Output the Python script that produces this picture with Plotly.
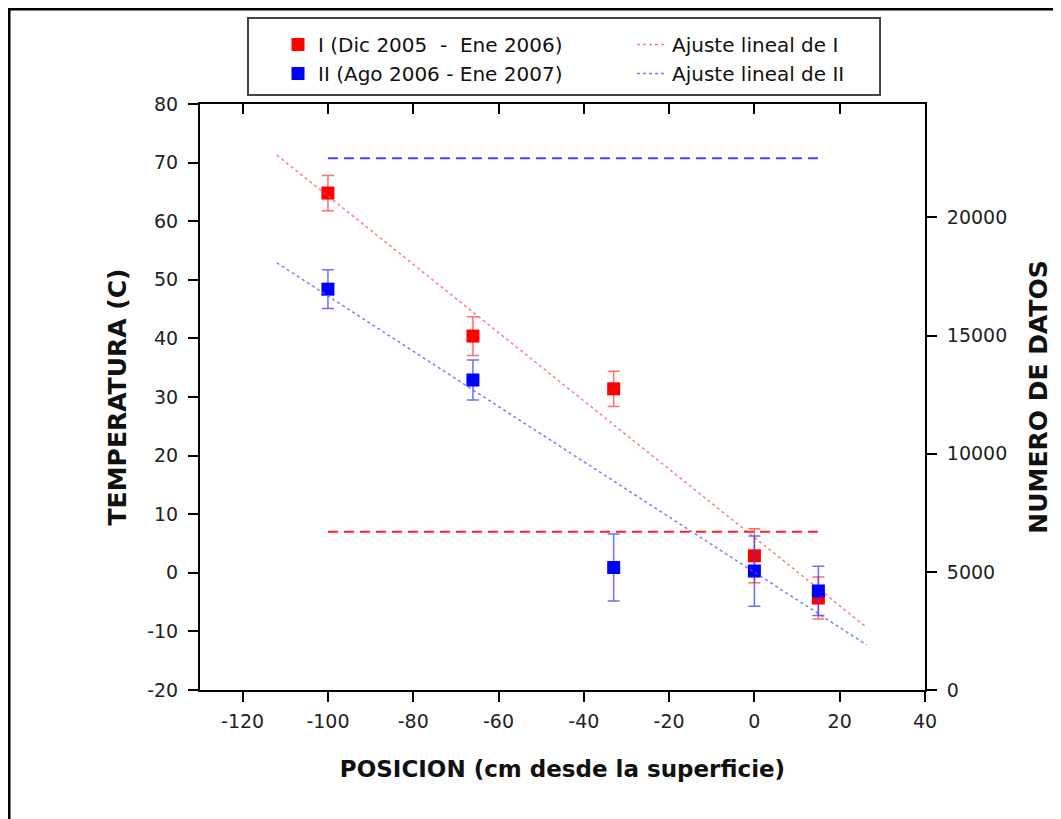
import plotly.graph_objects as go

# ---- data ----
pos = [-100, -66, -33, 0, 15]
temp_I = [64.8, 40.4, 31.4, 2.9, -4.3]
err_I = [3.0, 3.3, 3.0, 4.6, 3.6]
temp_II = [48.4, 32.9, 0.9, 0.3, -3.1]
err_II = [3.3, 3.4, 5.7, 6.0, 4.2]

fit_x = [-112, 26.3]
fit_I = [71.3, -9.3]
fit_II = [52.9, -12.3]

ndat_x = [-100, 15]
ndat_I = [6700, 6700]
ndat_II = [22500, 22500]

x_ticks = [-120, -100, -80, -60, -40, -20, 0, 20, 40]
x_ticktext = ["-120", "-100", "-80", "-60", "-40", "-20", "0", "20", "40"]
y_ticks = [-20, -10, 0, 10, 20, 30, 40, 50, 60, 70, 80]
y_ticktext = ["-20", "-10", "0", "10", "20", "30", "40", "50", "60", "70", "80"]
y2_ticks = [0, 5000, 10000, 15000, 20000]
y2_ticktext = ["0", "5000", "10000", "15000", "20000"]

name_I = "I (Dic 2005 \u00a0- \u00a0Ene 2006)"
name_II = "II (Ago 2006 - Ene 2007)"

FONT = "DejaVu Sans, Verdana, sans-serif"
TFONT = dict(family=FONT, size=23, color="#111")
YTFONT = dict(family=FONT, size=25, color="#111")

fig = go.Figure()

fig.add_trace(go.Scatter(
    x=pos, y=temp_I, mode="markers", name=name_I,
    marker=dict(symbol="square", size=13, color="#ff0000"),
    error_y=dict(type="data", array=err_I, color="rgba(255,60,60,0.75)", thickness=1.5, width=6),
))
fig.add_trace(go.Scatter(
    x=fit_x, y=fit_I, mode="lines", name="Ajuste lineal de I",
    line=dict(color="rgba(255,90,90,0.8)", width=1.5, dash="dot"),
))
fig.add_trace(go.Scatter(
    x=pos, y=temp_II, mode="markers", name=name_II,
    marker=dict(symbol="square", size=13, color="#0000ff"),
    error_y=dict(type="data", array=err_II, color="rgba(60,60,255,0.75)", thickness=1.5, width=6),
))
fig.add_trace(go.Scatter(
    x=fit_x, y=fit_II, mode="lines", name="Ajuste lineal de II",
    line=dict(color="rgba(90,90,255,0.8)", width=1.5, dash="dot"),
))
fig.add_trace(go.Scatter(
    x=ndat_x, y=ndat_I, mode="lines", yaxis="y2", showlegend=False,
    line=dict(color="#ff2020", width=2, dash="10px,6px"),
))
fig.add_trace(go.Scatter(
    x=ndat_x, y=ndat_II, mode="lines", yaxis="y2", showlegend=False,
    line=dict(color="#4444ff", width=2, dash="10px,6px"),
))
# invisible trace to activate top axis with inside ticks
fig.add_trace(go.Scatter(x=[None], y=[None], xaxis="x2", showlegend=False, hoverinfo="skip"))

axis_common = dict(showgrid=False, zeroline=False, showline=True, linecolor="black", linewidth=2,
                   ticks="outside", ticklen=10, tickwidth=2, tickcolor="black",
                   tickfont=dict(family=FONT, size=19, color="#222"))

fig.update_layout(
    width=1061, height=819,
    paper_bgcolor="white", plot_bgcolor="white",
    margin=dict(l=192, r=144, t=96, b=137),
    font=dict(family=FONT, color="black"),
    xaxis=dict(range=[-130, 40], tickvals=x_ticks, ticktext=x_ticktext, ticklabelstandoff=3,
               title=dict(text="<b>POSICION (cm desde la superficie)</b>", font=TFONT, standoff=30),
               **axis_common),
    xaxis2=dict(range=[-130, 40], overlaying="x", side="top", showgrid=False, zeroline=False,
                showline=True, linecolor="black", linewidth=2,
                ticks="inside", ticklen=10, tickwidth=2, tickcolor="black",
                tickvals=x_ticks, showticklabels=False),
    yaxis=dict(range=[-20, 80], tickvals=y_ticks, ticktext=y_ticktext, ticklabelstandoff=6,
               title=dict(text="<b>TEMPERATURA (C)</b>", font=YTFONT, standoff=13),
               **axis_common),
    yaxis2=dict(range=[0, 24800], overlaying="y", side="right",
                tickvals=y2_ticks, ticktext=y2_ticktext, ticklabelstandoff=6,
                title=dict(text="<b>NUMERO DE DATOS</b>", font=YTFONT, standoff=23),
                **axis_common),
    legend=dict(
        orientation="h", x=0.1076, y=1.1348, xanchor="left", yanchor="top",
        entrywidth=309, entrywidthmode="pixels",
        borderwidth=0, bgcolor="rgba(0,0,0,0)",
        font=dict(family=FONT, size=20, color="#111"),
        traceorder="normal", itemwidth=30,
    ),
    shapes=[
        dict(type="rect", xref="paper", yref="paper",
             x0=-0.2634, x1=1.3, y0=-0.4, y1=1.1621,
             line=dict(color="black", width=3), layer="below"),
        dict(type="rect", xref="paper", yref="paper",
             x0=0.0662, x1=0.938, y0=1.0154, y1=1.1468,
             line=dict(color="#444", width=2), fillcolor="white", layer="below"),
    ],
)

fig.write_html("out.html")
